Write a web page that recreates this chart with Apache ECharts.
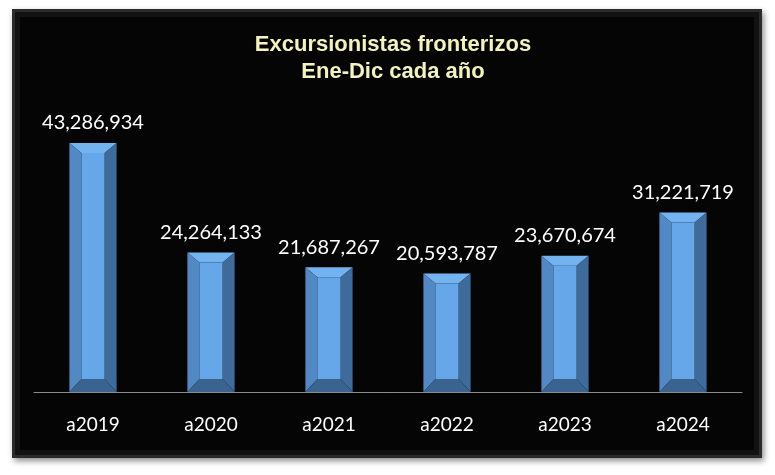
<!DOCTYPE html>
<html>
<head>
<meta charset="utf-8">
<script src="https://cdn.jsdelivr.net/npm/echarts@6/dist/echarts.min.js"></script>
<style>
html,body{margin:0;padding:0;background:#ffffff;}
#chart{width:775px;height:475px;}
</style>
</head>
<body>
<div id="chart"></div>
<script>
const titleLines = ['Excursionistas fronterizos', 'Ene-Dic cada año'];
const categories = ['a2019', 'a2020', 'a2021', 'a2022', 'a2023', 'a2024'];
const values = [43286934, 24264133, 21687267, 20593787, 23670674, 31221719];

const chart = echarts.init(document.getElementById('chart'), null, {renderer: 'canvas'});

function renderBevel(params, api) {
  const i = api.value(0);
  const v = api.value(1);
  const top = api.coord([i, v]);
  const bot = api.coord([i, 0]);
  const w = api.size([1, 0])[0] * 0.4;
  const x0 = top[0] - w / 2, x1 = top[0] + w / 2;
  const y0 = top[1], y1 = bot[1];
  const ix = 12, it = 10, ib = 13;
  const xi0 = x0 + ix, xi1 = x1 - ix, yi0 = y0 + it, yi1 = y1 - ib;
  return {
    type: 'group',
    children: [
      {type: 'polygon', shape: {points: [[x0, y0], [x1, y0], [xi1, yi0], [xi0, yi0]]}, style: {fill: '#73b3f0'}},
      {type: 'polygon', shape: {points: [[x0, y0], [xi0, yi0], [xi0, yi1], [x0, y1]]}, style: {fill: '#5289c4'}},
      {type: 'polygon', shape: {points: [[x1, y0], [x1, y1], [xi1, yi1], [xi1, yi0]]}, style: {fill: '#3f6b9b'}},
      {type: 'polygon', shape: {points: [[x0, y1], [xi0, yi1], [xi1, yi1], [x1, y1]]}, style: {fill: '#3a6390'}},
      {type: 'rect', shape: {x: xi0, y: yi0, width: xi1 - xi0, height: yi1 - yi0}, style: {fill: '#65a7e8'}}
    ]
  };
}

chart.setOption({
  backgroundColor: '#ffffff',
  animation: false,
  graphic: [
    {type: 'rect', z: -10, shape: {x: 12, y: 9, width: 750, height: 449},
     style: {fill: '#2b2b2b', shadowBlur: 6, shadowColor: 'rgba(0,0,0,0.45)', shadowOffsetX: 2, shadowOffsetY: 3}},
    {type: 'rect', z: -9, shape: {x: 15, y: 12, width: 744, height: 443},
     style: {fill: '#121212'}},
    {type: 'rect', z: -8, shape: {x: 20, y: 17, width: 734, height: 433},
     style: {fill: '#050505'}}
  ],
  title: {
    text: titleLines.join('\n'),
    left: 388,
    top: 26,
    textAlign: 'center',
    textStyle: {
      color: '#f3f3c2',
      fontFamily: '"Liberation Sans", Arial, sans-serif',
      fontWeight: 'bold',
      fontSize: 22,
      lineHeight: 27
    }
  },
  grid: {left: 34, right: 33, top: 104.4, bottom: 83, containLabel: false},
  xAxis: {
    type: 'category',
    data: categories,
    axisLine: {show: true, lineStyle: {color: '#8c8c8c', width: 1}},
    axisTick: {show: false},
    axisLabel: {color: '#ffffff', fontFamily: 'Lato', fontSize: 19, margin: 23}
  },
  yAxis: {
    type: 'value',
    min: 0,
    max: 50000000,
    show: false,
    splitLine: {show: false}
  },
  series: [
    {
      type: 'bar',
      data: values,
      barWidth: '40%',
      itemStyle: {color: 'rgba(0,0,0,0)'},
      label: {
        show: true,
        position: 'top',
        distance: 10,
        color: '#ffffff',
        fontFamily: 'Lato',
        fontSize: 20,
        formatter: p => p.value.toLocaleString('en-US')
      },
      z: 3
    },
    {
      type: 'custom',
      renderItem: renderBevel,
      data: values.map((v, i) => [i, v]),
      encode: {x: 0, y: 1},
      z: 2
    }
  ]
});
</script>
</body>
</html>
